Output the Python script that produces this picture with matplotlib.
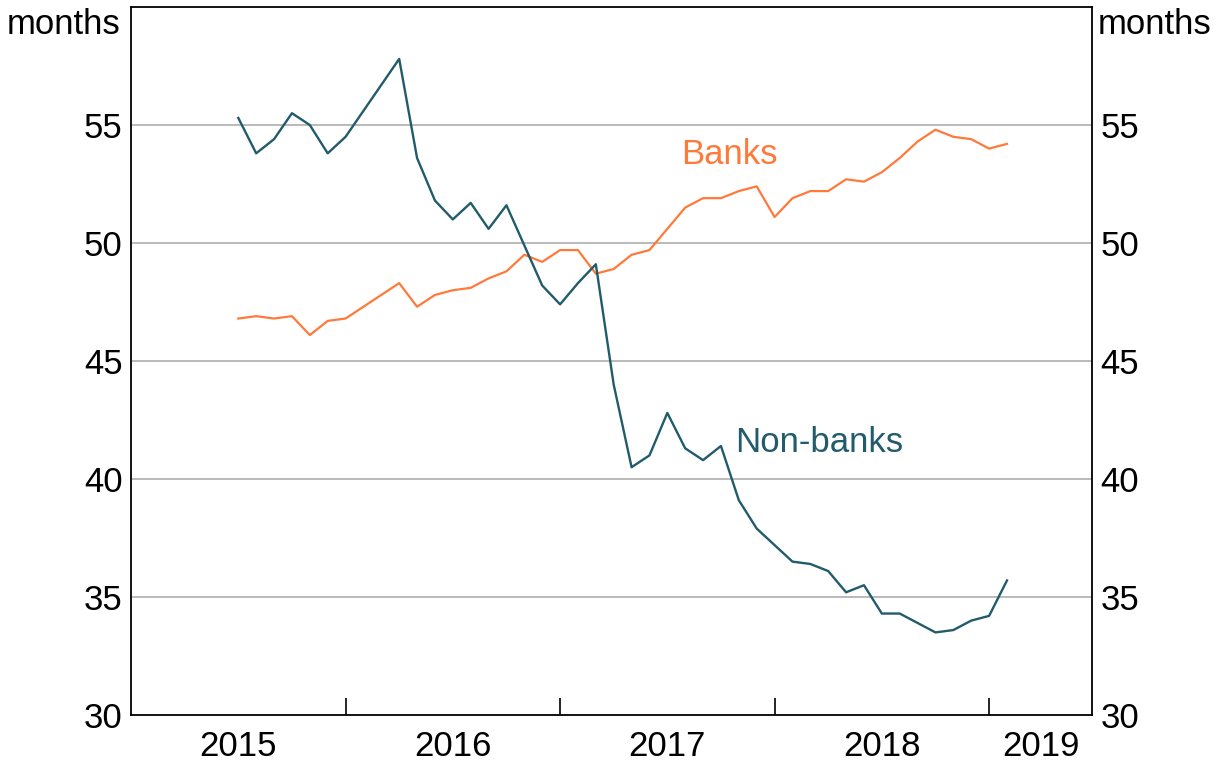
import matplotlib
matplotlib.use("Agg")
import matplotlib.pyplot as plt
import pandas as pd

# monthly series, Jul 2015 - Feb 2019 (months)
months = pd.date_range("2015-07-01", periods=44, freq="MS")
non_banks = [55.3, 53.8, 54.4, 55.5, 55.0, 53.8, 54.5, 55.6, 56.7, 57.8,
             53.6, 51.8, 51.0, 51.7, 50.6, 51.6, 49.9, 48.2, 47.4, 48.3,
             49.1, 44.0, 40.5, 41.0, 42.8, 41.3, 40.8, 41.4, 39.1, 37.9,
             37.2, 36.5, 36.4, 36.1, 35.2, 35.5, 34.3, 34.3, 33.9, 33.5,
             33.6, 34.0, 34.2, 35.7]
banks = [46.8, 46.9, 46.8, 46.9, 46.1, 46.7, 46.8, 47.3, 47.8, 48.3,
         47.3, 47.8, 48.0, 48.1, 48.5, 48.8, 49.5, 49.2, 49.7, 49.7,
         48.7, 48.9, 49.5, 49.7, 50.6, 51.5, 51.9, 51.9, 52.2, 52.4,
         51.1, 51.9, 52.2, 52.2, 52.7, 52.6, 53.0, 53.6, 54.3, 54.8,
         54.5, 54.4, 54.0, 54.2]
years = [2015, 2016, 2017, 2018, 2019]
y_ticks = [30, 35, 40, 45, 50, 55]

x = months.year + (months.month - 1) / 12.0

plt.rcParams["font.family"] = ["Liberation Sans", "DejaVu Sans"]
fs = 25

fig = plt.figure(figsize=(12.18, 7.69), dpi=100)
ax = fig.add_axes([0.1076, 0.0702, 0.7890, 0.9207])

teal = "#225b6b"
orange = "#ff7a3a"
x_end = 2019.48

for yv in y_ticks[1:]:
    ax.axhline(yv, color="#b4b4b4", lw=1.3, zorder=1)

ax.plot(x, banks, color=orange, lw=1.6, zorder=3)
ax.plot(x, non_banks, color=teal, lw=1.7, zorder=4)

ax.text(2017.79, 53.75, "Banks", color=orange, fontsize=fs, ha="center", va="center")
ax.text(2018.21, 41.55, "Non-banks", color=teal, fontsize=fs, ha="center", va="center")

ax.set_xlim(2015.0, x_end)
ax.set_ylim(30, 60)

# year boundaries as ticks, labels in the middle of the visible part of each year
ax.set_xticks(years[1:])
ax.set_xticklabels([])
label_pos = [(yr + min(yr + 1, x_end)) / 2 for yr in years]
ax.set_xticks(label_pos, minor=True)
ax.set_xticklabels([str(yr) for yr in years], minor=True, fontsize=fs)
ax.tick_params(axis="x", which="major", direction="in", length=12, width=1.2)
ax.tick_params(axis="x", which="minor", length=0, pad=11)

ax.set_yticks(y_ticks)
ax.set_yticklabels([str(v) for v in y_ticks], fontsize=fs)
ax.tick_params(axis="y", length=0, pad=6, labelright=True, right=False)

for s in ax.spines.values():
    s.set_linewidth(1.3)
    s.set_color("black")

fig.text(0.0985, 0.989, "months", fontsize=fs, ha="right", va="top")
fig.text(0.9015, 0.989, "months", fontsize=fs, ha="left", va="top")

fig.savefig("out.png", dpi=100)
